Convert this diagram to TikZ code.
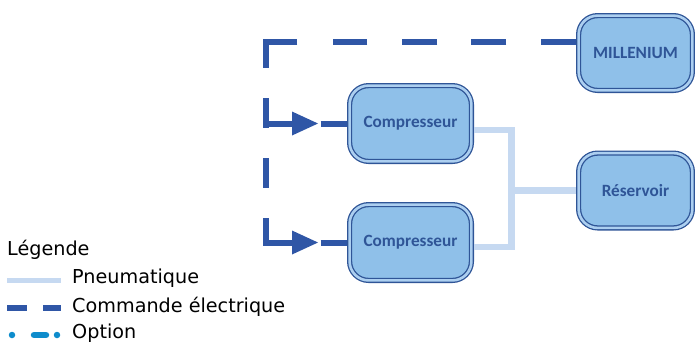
\documentclass[tikz,border=0pt]{standalone}
\usepackage{fontspec}
\setmainfont{DejaVu Sans}
\newfontfamily\boxfont{Carlito}
\usetikzlibrary{decorations.markings}
\definecolor{boxfill}{RGB}{143,192,233}
\definecolor{boxring}{RGB}{172,207,240}
\definecolor{boxline}{RGB}{47,85,151}
\definecolor{cmdblue}{RGB}{47,86,166}
\definecolor{pneublue}{RGB}{198,217,241}
\definecolor{optblue}{RGB}{14,140,204}

\begin{document}
\begin{tikzpicture}[x=1pt, y=-1pt,
    unit/.style={draw=boxline, line width=1.3pt, double=boxring, double distance=2.6pt,
      fill=boxfill, rounded corners=19pt, minimum width=121.8pt, minimum height=75.8pt,
      outer sep=2.6pt, text=boxline, font=\boxfont\bfseries\fontsize{17.2}{20}\selectfont},
    pneu/.style={pneublue, line width=6.5pt},
    cmd/.style={cmdblue, line width=6pt, postaction={decorate, decoration={markings,
      mark=at position -29pt with {\fill[cmdblue, solid] (-26,-12) -- (0,0) -- (-26,12) -- cycle;}}}},
    legend/.style={anchor=base west, inner sep=0pt, font=\fontsize{19.2}{23}\selectfont}]
    \useasboundingbox (0,0) rectangle (695,343);

    \node[unit] (comp1) at (410.5,123.5) {Compresseur};
    \node[unit] (comp2) at (410.5,242.5) {Compresseur};
    \node[unit, minimum width=113.8pt, minimum height=74.8pt] (mill) at (635.5,53) {MILLENIUM};
    \node[unit, minimum width=113.8pt, minimum height=74.8pt] (res) at (635.5,190.5) {Réservoir};

    % air
    \coordinate (tee) at (511.5,190.5);
    \draw[pneu] ([yshift=-6.5pt]comp1.east) -| (tee) |- ([yshift=-4.5pt]comp2.east);
    \draw[pneu] (tee) -- (res.west);

    % commande
    \draw[cmd, dash pattern=on 35pt off 35pt on 35pt off 34pt on 35pt off 35pt on 34pt off 36pt on 57pt off 30pt on 53pt off 27pt on 28pt]
    ([yshift=11pt]mill.west) -| ([xshift=-81pt]comp1.west) -- (comp1.west);
    \draw[cmd, dash pattern=on 35pt off 35pt on 35pt off 34pt on 35pt off 35pt on 34pt off 36pt on 57pt off 30pt on 30pt off 30pt on 30pt off 30pt on 52pt off 27pt on 28pt]
    ([yshift=11pt]mill.west) -| ([xshift=-81pt]comp2.west) -- (comp2.west);

    % legende
    \node[legend] (leg) at (7,255) {Légende};
    \draw[pneublue, line width=5pt] (7,280) -- (61,280);
    \node[legend] (lpneu) at (72,283) {Pneumatique};
    \draw[cmdblue, line width=6pt, dash pattern=on 20pt off 16pt on 18pt] (7,307.5) -- (61,307.5);
    \node[legend] (lcmd) at (72,312) {Commande électrique};
    \draw[optblue, line width=6.5pt, line cap=round, dash pattern=on 0pt off 22pt on 12pt off 11pt on 0pt off 5pt] (12,335) -- (60,335);
    \node[legend] (lopt) at (72,338.5) {Option};
\end{tikzpicture}
\end{document}
